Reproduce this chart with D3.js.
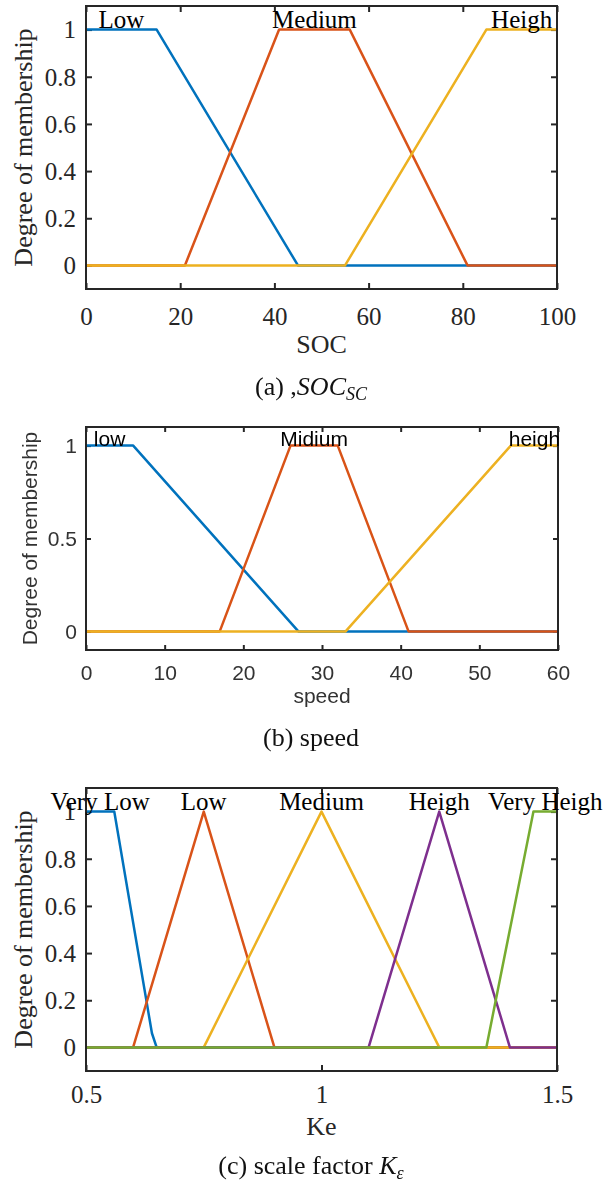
<!DOCTYPE html>
<html>
<head>
<meta charset="utf-8">
<script src="https://cdn.jsdelivr.net/npm/d3@7"></script>
<style>
  html, body { margin: 0; padding: 0; background: #fff; }
  svg { display: block; }
</style>
</head>
<body>
<script>
// ---- (a) SOC membership functions ----
const socTicks = [0, 20, 40, 60, 80, 100];
const socYTicks = [0, 0.2, 0.4, 0.6, 0.8, 1];
const socNames = ["Low", "Medium", "Heigh"];
const socLow = [[0, 1], [15, 1], [45, 0], [100, 0]];
const socMedium = [[0, 0], [21, 0], [41, 1], [56, 1], [81, 0], [100, 0]];
const socHeigh = [[0, 0], [55, 0], [85, 1], [100, 1]];

// ---- (b) speed membership functions ----
const speedTicks = [0, 10, 20, 30, 40, 50, 60];
const speedYTicks = [0, 0.5, 1];
const speedNames = ["low", "Midium", "heigh"];
const speedLow = [[0, 1], [6, 1], [27, 0], [60, 0]];
const speedMidium = [[0, 0], [17, 0], [26, 1], [32, 1], [41, 0], [60, 0]];
const speedHeigh = [[0, 0], [33, 0], [54, 1], [60, 1]];

// ---- (c) Ke membership functions ----
const keTicks = [0.5, 1, 1.5];
const keYTicks = [0, 0.2, 0.4, 0.6, 0.8, 1];
const keNames = ["Very Low", "Low", "Medium", "Heigh", "Very Heigh"];
const keVeryLow = [[0.5, 1], [0.56, 1], [0.64, 0.06], [0.65, 0], [1.5, 0]];
const keLow = [[0.5, 0], [0.6, 0], [0.75, 1], [0.9, 0], [1.5, 0]];
const keMedium = [[0.5, 0], [0.75, 0], [1, 1], [1.25, 0], [1.5, 0]];
const keHeigh = [[0.5, 0], [1.1, 0], [1.25, 1], [1.4, 0], [1.5, 0]];
const keVeryHeigh = [[0.5, 0], [1.35, 0], [1.45, 1], [1.5, 1]];

const colors = ["#0072BD", "#D95319", "#EDB120", "#7E2F8E", "#77AC30"];
const serif = "'Liberation Serif', 'Times New Roman', Times, serif";
const sans = "'Liberation Sans', Arial, Helvetica, sans-serif";

const svg = d3.select("body").append("svg")
  .attr("width", 606).attr("height", 1182)
  .attr("viewBox", "0 0 606 1182");
svg.append("rect").attr("width", 606).attr("height", 1182).attr("fill", "#fff");

const defs = svg.append("defs");
defs.append("filter").attr("id", "soft")
  .attr("x", "-5%").attr("y", "-5%").attr("width", "110%").attr("height", "110%")
  .append("feGaussianBlur").attr("stdDeviation", 0.45);

// label position: middle of each curve's plateau at membership 1
function plateauCenter(curve) {
  const top = curve.filter(p => p[1] === 1).map(p => p[0]);
  return (d3.min(top) + d3.max(top)) / 2;
}

function drawPanel(cfg) {
  const g = svg.append("g").style("font-family", cfg.font);
  if (cfg.blur) g.attr("filter", "url(#soft)");

  const x = d3.scaleLinear().domain(cfg.xDomain).range([cfg.left, cfg.right]);
  const y = d3.scaleLinear().domain([-0.1, 1.1]).range([cfg.bottom, cfg.top]);

  // bottom axis with inward ticks and labels
  const bx = g.append("g").attr("transform", `translate(0,${cfg.bottom})`)
    .call(d3.axisBottom(x).tickValues(cfg.xTicks).tickFormat(d3.format("~g"))
      .tickSizeInner(-cfg.tickLen).tickSizeOuter(0).tickPadding(cfg.xPad));
  // top axis, ticks only
  const tx = g.append("g").attr("transform", `translate(0,${cfg.top})`)
    .call(d3.axisTop(x).tickValues(cfg.xTicks).tickFormat("")
      .tickSizeInner(-cfg.tickLen).tickSizeOuter(0));
  // left axis with labels
  const ly = g.append("g").attr("transform", `translate(${cfg.left},0)`)
    .call(d3.axisLeft(y).tickValues(cfg.yTicks).tickFormat(d3.format("~g"))
      .tickSizeInner(-cfg.tickLen).tickSizeOuter(0).tickPadding(cfg.yPad));
  // right axis, ticks only
  const ry = g.append("g").attr("transform", `translate(${cfg.right},0)`)
    .call(d3.axisRight(y).tickValues(cfg.yTicks).tickFormat("")
      .tickSizeInner(-cfg.tickLen).tickSizeOuter(0));

  [bx, tx, ly, ry].forEach(a => {
    a.attr("font-family", null).attr("font-size", null);
    a.select(".domain").remove();
    a.selectAll(".tick line").attr("stroke", "#262626").attr("stroke-width", 2);
    a.selectAll(".tick text")
      .style("font-family", cfg.font).style("font-size", cfg.tickSize + "px")
      .attr("fill", cfg.tickColor);
  });
  ly.selectAll(".tick text").attr("dy", "0.33em");

  // curves
  const line = d3.line().x(d => x(d[0])).y(d => y(d[1]));
  cfg.curves.forEach((c, i) => {
    g.append("path").attr("d", line(c))
      .attr("fill", "none").attr("stroke", colors[i])
      .attr("stroke-width", 2.5).attr("stroke-linejoin", "round")
      .attr("stroke-linecap", "butt");
  });

  // axes box
  g.append("rect")
    .attr("x", cfg.left).attr("y", cfg.top)
    .attr("width", cfg.right - cfg.left).attr("height", cfg.bottom - cfg.top)
    .attr("fill", "none").attr("stroke", "#262626").attr("stroke-width", 2);

  // curve names
  cfg.curves.forEach((c, i) => {
    g.append("text")
      .attr("x", x(plateauCenter(c)))
      .attr("y", y(1) - cfg.nameLift)
      .attr("text-anchor", "middle")
      .style("font-family", cfg.font).style("font-size", cfg.nameSize + "px")
      .attr("fill", "#000")
      .text(cfg.names[i]);
  });

  // axis titles
  g.append("text")
    .attr("x", (cfg.left + cfg.right) / 2).attr("y", cfg.xLabelY)
    .attr("text-anchor", "middle")
    .style("font-family", cfg.font).style("font-size", cfg.labelSize + "px")
    .attr("fill", cfg.tickColor).text(cfg.xLabel);
  g.append("text")
    .attr("transform", `translate(${cfg.yLabelX},${(cfg.top + cfg.bottom) / 2}) rotate(-90)`)
    .attr("text-anchor", "middle")
    .style("font-family", cfg.font).style("font-size", cfg.labelSize + "px")
    .attr("fill", cfg.tickColor).text("Degree of membership");
}

drawPanel({
  left: 86, right: 557, top: 6, bottom: 289,
  xDomain: [0, 100], xTicks: socTicks, yTicks: socYTicks,
  curves: [socLow, socMedium, socHeigh], names: socNames,
  font: serif, tickSize: 25, labelSize: 26, nameSize: 25,
  tickColor: "#262626", tickLen: 6, xPad: 18, yPad: 10, nameLift: 2,
  xLabel: "SOC", xLabelY: 353, yLabelX: 32
});

drawPanel({
  left: 86, right: 558, top: 427, bottom: 650,
  xDomain: [0, 60], xTicks: speedTicks, yTicks: speedYTicks,
  curves: [speedLow, speedMidium, speedHeigh], names: speedNames,
  font: sans, tickSize: 21, labelSize: 21, nameSize: 21,
  tickColor: "#333", tickLen: 5, xPad: 15, yPad: 9, nameLift: 0,
  xLabel: "speed", xLabelY: 703, yLabelX: 37, blur: true
});

drawPanel({
  left: 86, right: 557, top: 788, bottom: 1071,
  xDomain: [0.5, 1.5], xTicks: keTicks, yTicks: keYTicks,
  curves: [keVeryLow, keLow, keMedium, keHeigh, keVeryHeigh], names: keNames,
  font: serif, tickSize: 25, labelSize: 26, nameSize: 25,
  tickColor: "#262626", tickLen: 6, xPad: 14, yPad: 10, nameLift: 2,
  xLabel: "Ke", xLabelY: 1135, yLabelX: 32
});

// captions
const capA = svg.append("text").attr("x", 311).attr("y", 395)
  .attr("text-anchor", "middle").style("font-family", serif)
  .style("font-size", "26px").attr("fill", "#111");
capA.append("tspan").text("(a) ,");
capA.append("tspan").attr("font-style", "italic").text("SOC");
capA.append("tspan").attr("font-style", "italic").style("font-size", "18px")
  .attr("dy", 5).text("SC");

svg.append("text").attr("x", 311).attr("y", 746)
  .attr("text-anchor", "middle").style("font-family", serif)
  .style("font-size", "26px").attr("fill", "#111").text("(b) speed");

const capC = svg.append("text").attr("x", 311).attr("y", 1174)
  .attr("text-anchor", "middle").style("font-family", serif)
  .style("font-size", "26px").attr("fill", "#111");
capC.append("tspan").text("(c) scale factor ");
capC.append("tspan").attr("font-style", "italic").text("K");
capC.append("tspan").attr("font-style", "italic").style("font-size", "18px")
  .attr("dy", 5).text("ε");
</script>
</body>
</html>
